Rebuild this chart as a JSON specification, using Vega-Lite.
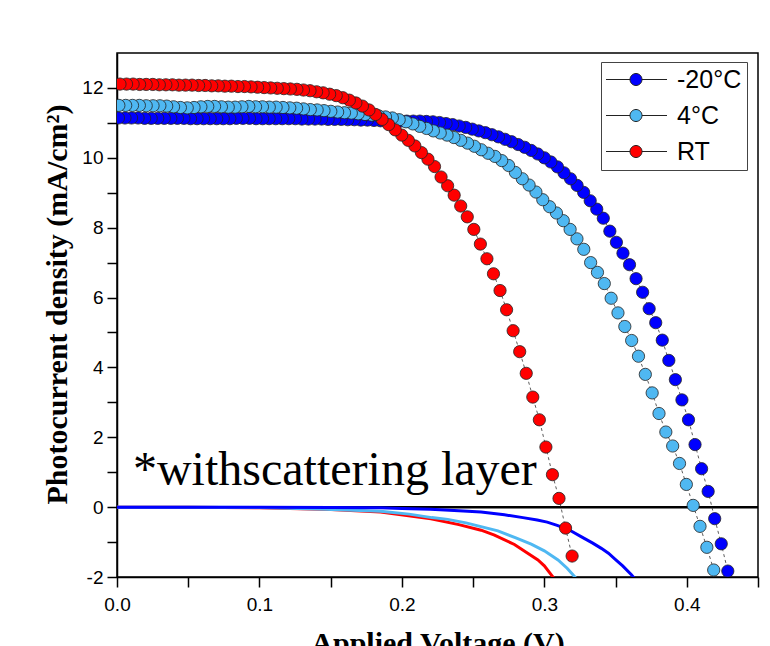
{
  "$schema": "https://vega.github.io/schema/vega-lite/v6.json",
  "width": 641,
  "height": 524,
  "autosize": {"type": "none"},
  "padding": {"left": 117, "top": 53, "right": 12, "bottom": 69},
  "background": "white",
  "config": {
    "view": {"stroke": "black", "strokeWidth": 1.5},
    "axis": {
      "grid": false,
      "domainColor": "black",
      "domainWidth": 1.5,
      "tickColor": "black",
      "tickWidth": 1.5,
      "tickSize": 10,
      "labelFont": "Liberation Sans",
      "labelFontSize": 19,
      "labelColor": "black",
      "labelFlush": false,
      "labelOverlap": false,
      "titleFont": "Liberation Serif",
      "titleFontWeight": "bold",
      "titleFontSize": 30,
      "titleColor": "black"
    }
  },
  "datasets": {
    "pts": [
      {"series": "-20°C", "V": 0.4288, "J": -1.83},
      {"series": "-20°C", "V": 0.4242, "J": -1.05},
      {"series": "-20°C", "V": 0.4196, "J": -0.33},
      {"series": "-20°C", "V": 0.4150, "J": 0.45},
      {"series": "-20°C", "V": 0.4104, "J": 1.10},
      {"series": "-20°C", "V": 0.4058, "J": 1.79},
      {"series": "-20°C", "V": 0.4012, "J": 2.50},
      {"series": "-20°C", "V": 0.3966, "J": 3.07},
      {"series": "-20°C", "V": 0.3920, "J": 3.65},
      {"series": "-20°C", "V": 0.3874, "J": 4.20},
      {"series": "-20°C", "V": 0.3828, "J": 4.78},
      {"series": "-20°C", "V": 0.3782, "J": 5.28},
      {"series": "-20°C", "V": 0.3736, "J": 5.68},
      {"series": "-20°C", "V": 0.3690, "J": 6.15},
      {"series": "-20°C", "V": 0.3644, "J": 6.54},
      {"series": "-20°C", "V": 0.3598, "J": 6.94},
      {"series": "-20°C", "V": 0.3552, "J": 7.27},
      {"series": "-20°C", "V": 0.3506, "J": 7.58},
      {"series": "-20°C", "V": 0.3460, "J": 7.90},
      {"series": "-20°C", "V": 0.3414, "J": 8.27},
      {"series": "-20°C", "V": 0.3368, "J": 8.53},
      {"series": "-20°C", "V": 0.3322, "J": 8.77},
      {"series": "-20°C", "V": 0.3276, "J": 9.01},
      {"series": "-20°C", "V": 0.3230, "J": 9.21},
      {"series": "-20°C", "V": 0.3184, "J": 9.40},
      {"series": "-20°C", "V": 0.3138, "J": 9.57},
      {"series": "-20°C", "V": 0.3092, "J": 9.74},
      {"series": "-20°C", "V": 0.3046, "J": 9.88},
      {"series": "-20°C", "V": 0.3000, "J": 10.00},
      {"series": "-20°C", "V": 0.2954, "J": 10.11},
      {"series": "-20°C", "V": 0.2908, "J": 10.21},
      {"series": "-20°C", "V": 0.2862, "J": 10.30},
      {"series": "-20°C", "V": 0.2816, "J": 10.38},
      {"series": "-20°C", "V": 0.2770, "J": 10.46},
      {"series": "-20°C", "V": 0.2724, "J": 10.53},
      {"series": "-20°C", "V": 0.2678, "J": 10.60},
      {"series": "-20°C", "V": 0.2632, "J": 10.66},
      {"series": "-20°C", "V": 0.2586, "J": 10.72},
      {"series": "-20°C", "V": 0.2540, "J": 10.77},
      {"series": "-20°C", "V": 0.2494, "J": 10.82},
      {"series": "-20°C", "V": 0.2448, "J": 10.87},
      {"series": "-20°C", "V": 0.2402, "J": 10.91},
      {"series": "-20°C", "V": 0.2356, "J": 10.95},
      {"series": "-20°C", "V": 0.2310, "J": 10.98},
      {"series": "-20°C", "V": 0.2264, "J": 11.01},
      {"series": "-20°C", "V": 0.2218, "J": 11.03},
      {"series": "-20°C", "V": 0.2172, "J": 11.04},
      {"series": "-20°C", "V": 0.2126, "J": 11.05},
      {"series": "-20°C", "V": 0.2080, "J": 11.05},
      {"series": "-20°C", "V": 0.2034, "J": 11.05},
      {"series": "-20°C", "V": 0.1988, "J": 11.05},
      {"series": "-20°C", "V": 0.1942, "J": 11.05},
      {"series": "-20°C", "V": 0.1896, "J": 11.06},
      {"series": "-20°C", "V": 0.1850, "J": 11.06},
      {"series": "-20°C", "V": 0.1804, "J": 11.07},
      {"series": "-20°C", "V": 0.1758, "J": 11.08},
      {"series": "-20°C", "V": 0.1712, "J": 11.08},
      {"series": "-20°C", "V": 0.1666, "J": 11.09},
      {"series": "-20°C", "V": 0.1620, "J": 11.09},
      {"series": "-20°C", "V": 0.1574, "J": 11.10},
      {"series": "-20°C", "V": 0.1528, "J": 11.10},
      {"series": "-20°C", "V": 0.1482, "J": 11.10},
      {"series": "-20°C", "V": 0.1436, "J": 11.11},
      {"series": "-20°C", "V": 0.1390, "J": 11.11},
      {"series": "-20°C", "V": 0.1344, "J": 11.11},
      {"series": "-20°C", "V": 0.1298, "J": 11.11},
      {"series": "-20°C", "V": 0.1252, "J": 11.12},
      {"series": "-20°C", "V": 0.1206, "J": 11.12},
      {"series": "-20°C", "V": 0.1160, "J": 11.12},
      {"series": "-20°C", "V": 0.1114, "J": 11.12},
      {"series": "-20°C", "V": 0.1068, "J": 11.12},
      {"series": "-20°C", "V": 0.1022, "J": 11.12},
      {"series": "-20°C", "V": 0.0976, "J": 11.12},
      {"series": "-20°C", "V": 0.0930, "J": 11.13},
      {"series": "-20°C", "V": 0.0884, "J": 11.13},
      {"series": "-20°C", "V": 0.0838, "J": 11.13},
      {"series": "-20°C", "V": 0.0792, "J": 11.12},
      {"series": "-20°C", "V": 0.0746, "J": 11.12},
      {"series": "-20°C", "V": 0.0700, "J": 11.12},
      {"series": "-20°C", "V": 0.0654, "J": 11.12},
      {"series": "-20°C", "V": 0.0608, "J": 11.12},
      {"series": "-20°C", "V": 0.0562, "J": 11.12},
      {"series": "-20°C", "V": 0.0516, "J": 11.12},
      {"series": "-20°C", "V": 0.0470, "J": 11.13},
      {"series": "-20°C", "V": 0.0424, "J": 11.13},
      {"series": "-20°C", "V": 0.0378, "J": 11.13},
      {"series": "-20°C", "V": 0.0332, "J": 11.13},
      {"series": "-20°C", "V": 0.0286, "J": 11.13},
      {"series": "-20°C", "V": 0.0240, "J": 11.13},
      {"series": "-20°C", "V": 0.0194, "J": 11.13},
      {"series": "-20°C", "V": 0.0148, "J": 11.14},
      {"series": "-20°C", "V": 0.0102, "J": 11.14},
      {"series": "-20°C", "V": 0.0056, "J": 11.14},
      {"series": "-20°C", "V": 0.0010, "J": 11.14},
      {"series": "4°C", "V": 0.4189, "J": -1.80},
      {"series": "4°C", "V": 0.4141, "J": -1.15},
      {"series": "4°C", "V": 0.4093, "J": -0.55},
      {"series": "4°C", "V": 0.4045, "J": 0.05},
      {"series": "4°C", "V": 0.3997, "J": 0.65},
      {"series": "4°C", "V": 0.3949, "J": 1.25},
      {"series": "4°C", "V": 0.3901, "J": 1.75},
      {"series": "4°C", "V": 0.3853, "J": 2.15},
      {"series": "4°C", "V": 0.3805, "J": 2.68},
      {"series": "4°C", "V": 0.3757, "J": 3.27},
      {"series": "4°C", "V": 0.3709, "J": 3.80},
      {"series": "4°C", "V": 0.3661, "J": 4.32},
      {"series": "4°C", "V": 0.3613, "J": 4.77},
      {"series": "4°C", "V": 0.3565, "J": 5.17},
      {"series": "4°C", "V": 0.3517, "J": 5.56},
      {"series": "4°C", "V": 0.3469, "J": 5.98},
      {"series": "4°C", "V": 0.3421, "J": 6.40},
      {"series": "4°C", "V": 0.3373, "J": 6.72},
      {"series": "4°C", "V": 0.3325, "J": 7.00},
      {"series": "4°C", "V": 0.3277, "J": 7.38},
      {"series": "4°C", "V": 0.3229, "J": 7.68},
      {"series": "4°C", "V": 0.3181, "J": 7.95},
      {"series": "4°C", "V": 0.3133, "J": 8.20},
      {"series": "4°C", "V": 0.3085, "J": 8.42},
      {"series": "4°C", "V": 0.3037, "J": 8.60},
      {"series": "4°C", "V": 0.2989, "J": 8.80},
      {"series": "4°C", "V": 0.2941, "J": 9.02},
      {"series": "4°C", "V": 0.2893, "J": 9.22},
      {"series": "4°C", "V": 0.2845, "J": 9.40},
      {"series": "4°C", "V": 0.2797, "J": 9.58},
      {"series": "4°C", "V": 0.2749, "J": 9.78},
      {"series": "4°C", "V": 0.2701, "J": 9.92},
      {"series": "4°C", "V": 0.2653, "J": 10.04},
      {"series": "4°C", "V": 0.2605, "J": 10.13},
      {"series": "4°C", "V": 0.2557, "J": 10.23},
      {"series": "4°C", "V": 0.2509, "J": 10.33},
      {"series": "4°C", "V": 0.2461, "J": 10.42},
      {"series": "4°C", "V": 0.2413, "J": 10.50},
      {"series": "4°C", "V": 0.2365, "J": 10.58},
      {"series": "4°C", "V": 0.2317, "J": 10.65},
      {"series": "4°C", "V": 0.2269, "J": 10.71},
      {"series": "4°C", "V": 0.2221, "J": 10.77},
      {"series": "4°C", "V": 0.2173, "J": 10.84},
      {"series": "4°C", "V": 0.2125, "J": 10.90},
      {"series": "4°C", "V": 0.2077, "J": 10.97},
      {"series": "4°C", "V": 0.2029, "J": 11.03},
      {"series": "4°C", "V": 0.1981, "J": 11.09},
      {"series": "4°C", "V": 0.1933, "J": 11.14},
      {"series": "4°C", "V": 0.1885, "J": 11.17},
      {"series": "4°C", "V": 0.1837, "J": 11.20},
      {"series": "4°C", "V": 0.1789, "J": 11.22},
      {"series": "4°C", "V": 0.1741, "J": 11.24},
      {"series": "4°C", "V": 0.1693, "J": 11.26},
      {"series": "4°C", "V": 0.1645, "J": 11.28},
      {"series": "4°C", "V": 0.1597, "J": 11.29},
      {"series": "4°C", "V": 0.1549, "J": 11.31},
      {"series": "4°C", "V": 0.1501, "J": 11.33},
      {"series": "4°C", "V": 0.1453, "J": 11.35},
      {"series": "4°C", "V": 0.1405, "J": 11.37},
      {"series": "4°C", "V": 0.1357, "J": 11.38},
      {"series": "4°C", "V": 0.1309, "J": 11.40},
      {"series": "4°C", "V": 0.1261, "J": 11.42},
      {"series": "4°C", "V": 0.1213, "J": 11.43},
      {"series": "4°C", "V": 0.1165, "J": 11.44},
      {"series": "4°C", "V": 0.1117, "J": 11.45},
      {"series": "4°C", "V": 0.1069, "J": 11.45},
      {"series": "4°C", "V": 0.1021, "J": 11.46},
      {"series": "4°C", "V": 0.0973, "J": 11.46},
      {"series": "4°C", "V": 0.0925, "J": 11.47},
      {"series": "4°C", "V": 0.0877, "J": 11.46},
      {"series": "4°C", "V": 0.0829, "J": 11.45},
      {"series": "4°C", "V": 0.0781, "J": 11.45},
      {"series": "4°C", "V": 0.0733, "J": 11.46},
      {"series": "4°C", "V": 0.0685, "J": 11.47},
      {"series": "4°C", "V": 0.0637, "J": 11.47},
      {"series": "4°C", "V": 0.0589, "J": 11.46},
      {"series": "4°C", "V": 0.0541, "J": 11.44},
      {"series": "4°C", "V": 0.0493, "J": 11.43},
      {"series": "4°C", "V": 0.0445, "J": 11.44},
      {"series": "4°C", "V": 0.0397, "J": 11.46},
      {"series": "4°C", "V": 0.0349, "J": 11.48},
      {"series": "4°C", "V": 0.0301, "J": 11.49},
      {"series": "4°C", "V": 0.0253, "J": 11.49},
      {"series": "4°C", "V": 0.0205, "J": 11.49},
      {"series": "4°C", "V": 0.0157, "J": 11.50},
      {"series": "4°C", "V": 0.0109, "J": 11.50},
      {"series": "4°C", "V": 0.0061, "J": 11.50},
      {"series": "4°C", "V": 0.0013, "J": 11.50},
      {"series": "RT", "V": 0.3195, "J": -1.40},
      {"series": "RT", "V": 0.3149, "J": -0.60},
      {"series": "RT", "V": 0.3103, "J": 0.25},
      {"series": "RT", "V": 0.3057, "J": 0.93},
      {"series": "RT", "V": 0.3011, "J": 1.72},
      {"series": "RT", "V": 0.2965, "J": 2.50},
      {"series": "RT", "V": 0.2919, "J": 3.15},
      {"series": "RT", "V": 0.2873, "J": 3.83},
      {"series": "RT", "V": 0.2827, "J": 4.45},
      {"series": "RT", "V": 0.2781, "J": 5.05},
      {"series": "RT", "V": 0.2735, "J": 5.65},
      {"series": "RT", "V": 0.2689, "J": 6.20},
      {"series": "RT", "V": 0.2643, "J": 6.68},
      {"series": "RT", "V": 0.2597, "J": 7.11},
      {"series": "RT", "V": 0.2551, "J": 7.53},
      {"series": "RT", "V": 0.2505, "J": 7.95},
      {"series": "RT", "V": 0.2459, "J": 8.31},
      {"series": "RT", "V": 0.2413, "J": 8.62},
      {"series": "RT", "V": 0.2367, "J": 8.93},
      {"series": "RT", "V": 0.2321, "J": 9.20},
      {"series": "RT", "V": 0.2275, "J": 9.45},
      {"series": "RT", "V": 0.2229, "J": 9.75},
      {"series": "RT", "V": 0.2183, "J": 9.96},
      {"series": "RT", "V": 0.2137, "J": 10.15},
      {"series": "RT", "V": 0.2091, "J": 10.34},
      {"series": "RT", "V": 0.2045, "J": 10.50},
      {"series": "RT", "V": 0.1999, "J": 10.65},
      {"series": "RT", "V": 0.1953, "J": 10.80},
      {"series": "RT", "V": 0.1907, "J": 10.95},
      {"series": "RT", "V": 0.1861, "J": 11.10},
      {"series": "RT", "V": 0.1815, "J": 11.24},
      {"series": "RT", "V": 0.1769, "J": 11.37},
      {"series": "RT", "V": 0.1723, "J": 11.48},
      {"series": "RT", "V": 0.1677, "J": 11.57},
      {"series": "RT", "V": 0.1631, "J": 11.65},
      {"series": "RT", "V": 0.1585, "J": 11.72},
      {"series": "RT", "V": 0.1539, "J": 11.78},
      {"series": "RT", "V": 0.1493, "J": 11.82},
      {"series": "RT", "V": 0.1447, "J": 11.86},
      {"series": "RT", "V": 0.1401, "J": 11.89},
      {"series": "RT", "V": 0.1355, "J": 11.92},
      {"series": "RT", "V": 0.1309, "J": 11.94},
      {"series": "RT", "V": 0.1263, "J": 11.96},
      {"series": "RT", "V": 0.1217, "J": 11.97},
      {"series": "RT", "V": 0.1171, "J": 11.98},
      {"series": "RT", "V": 0.1125, "J": 11.99},
      {"series": "RT", "V": 0.1079, "J": 12.00},
      {"series": "RT", "V": 0.1033, "J": 12.01},
      {"series": "RT", "V": 0.0987, "J": 12.02},
      {"series": "RT", "V": 0.0941, "J": 12.03},
      {"series": "RT", "V": 0.0895, "J": 12.04},
      {"series": "RT", "V": 0.0849, "J": 12.04},
      {"series": "RT", "V": 0.0803, "J": 12.05},
      {"series": "RT", "V": 0.0757, "J": 12.05},
      {"series": "RT", "V": 0.0711, "J": 12.06},
      {"series": "RT", "V": 0.0665, "J": 12.06},
      {"series": "RT", "V": 0.0619, "J": 12.07},
      {"series": "RT", "V": 0.0573, "J": 12.07},
      {"series": "RT", "V": 0.0527, "J": 12.08},
      {"series": "RT", "V": 0.0481, "J": 12.08},
      {"series": "RT", "V": 0.0435, "J": 12.08},
      {"series": "RT", "V": 0.0389, "J": 12.09},
      {"series": "RT", "V": 0.0343, "J": 12.09},
      {"series": "RT", "V": 0.0297, "J": 12.09},
      {"series": "RT", "V": 0.0251, "J": 12.10},
      {"series": "RT", "V": 0.0205, "J": 12.10},
      {"series": "RT", "V": 0.0159, "J": 12.10},
      {"series": "RT", "V": 0.0113, "J": 12.11},
      {"series": "RT", "V": 0.0067, "J": 12.11},
      {"series": "RT", "V": 0.0021, "J": 12.11}
    ],
    "dark": [
      {"curve": "RT dark", "V": 0.0, "J": 0.0},
      {"curve": "RT dark", "V": 0.05, "J": 0.0},
      {"curve": "RT dark", "V": 0.1, "J": -0.02},
      {"curve": "RT dark", "V": 0.15, "J": -0.07},
      {"curve": "RT dark", "V": 0.185, "J": -0.14},
      {"curve": "RT dark", "V": 0.2204, "J": -0.33},
      {"curve": "RT dark", "V": 0.24, "J": -0.5},
      {"curve": "RT dark", "V": 0.2556, "J": -0.66},
      {"curve": "RT dark", "V": 0.265, "J": -0.8},
      {"curve": "RT dark", "V": 0.279, "J": -1.07},
      {"curve": "RT dark", "V": 0.2955, "J": -1.51},
      {"curve": "RT dark", "V": 0.3, "J": -1.68},
      {"curve": "RT dark", "V": 0.3049, "J": -1.94},
      {"curve": "RT dark", "V": 0.307, "J": -2.05},
      {"curve": "4°C dark", "V": 0.0, "J": 0.0},
      {"curve": "4°C dark", "V": 0.05, "J": 0.0},
      {"curve": "4°C dark", "V": 0.1, "J": -0.01},
      {"curve": "4°C dark", "V": 0.146, "J": -0.06},
      {"curve": "4°C dark", "V": 0.185, "J": -0.12},
      {"curve": "4°C dark", "V": 0.205, "J": -0.2},
      {"curve": "4°C dark", "V": 0.221, "J": -0.3},
      {"curve": "4°C dark", "V": 0.2322, "J": -0.35},
      {"curve": "4°C dark", "V": 0.245, "J": -0.45},
      {"curve": "4°C dark", "V": 0.2674, "J": -0.68},
      {"curve": "4°C dark", "V": 0.28, "J": -0.88},
      {"curve": "4°C dark", "V": 0.2908, "J": -1.06},
      {"curve": "4°C dark", "V": 0.3, "J": -1.25},
      {"curve": "4°C dark", "V": 0.3096, "J": -1.51},
      {"curve": "4°C dark", "V": 0.316, "J": -1.75},
      {"curve": "4°C dark", "V": 0.3213, "J": -1.99},
      {"curve": "4°C dark", "V": 0.323, "J": -2.08},
      {"curve": "-20°C dark", "V": 0.0, "J": 0.0},
      {"curve": "-20°C dark", "V": 0.05, "J": 0.0},
      {"curve": "-20°C dark", "V": 0.1, "J": 0.0},
      {"curve": "-20°C dark", "V": 0.15, "J": -0.01},
      {"curve": "-20°C dark", "V": 0.185, "J": -0.02},
      {"curve": "-20°C dark", "V": 0.2, "J": -0.04},
      {"curve": "-20°C dark", "V": 0.22, "J": -0.06},
      {"curve": "-20°C dark", "V": 0.24, "J": -0.1},
      {"curve": "-20°C dark", "V": 0.2556, "J": -0.14},
      {"curve": "-20°C dark", "V": 0.272, "J": -0.22},
      {"curve": "-20°C dark", "V": 0.285, "J": -0.3},
      {"curve": "-20°C dark", "V": 0.295, "J": -0.37},
      {"curve": "-20°C dark", "V": 0.302, "J": -0.43},
      {"curve": "-20°C dark", "V": 0.309, "J": -0.52},
      {"curve": "-20°C dark", "V": 0.317, "J": -0.64},
      {"curve": "-20°C dark", "V": 0.3261, "J": -0.85},
      {"curve": "-20°C dark", "V": 0.334, "J": -1.03},
      {"curve": "-20°C dark", "V": 0.34, "J": -1.18},
      {"curve": "-20°C dark", "V": 0.345, "J": -1.32},
      {"curve": "-20°C dark", "V": 0.35, "J": -1.5},
      {"curve": "-20°C dark", "V": 0.355, "J": -1.68},
      {"curve": "-20°C dark", "V": 0.3613, "J": -1.94},
      {"curve": "-20°C dark", "V": 0.364, "J": -2.08}
    ],
    "baseline": [
      {"V": 0, "V2": 0.45, "J": 0}
    ],
    "note": [
      {"V": 0.0112, "J": 0.63, "text": "*withscattering layer"}
    ]
  },
  "encoding": {
    "x": {
      "field": "V", "type": "quantitative",
      "scale": {"domain": [0, 0.45], "nice": false, "zero": false},
      "axis": {
        "title": "Applied Voltage (V)",
        "values": [0, 0.05, 0.1, 0.15, 0.2, 0.25, 0.3, 0.35, 0.4, 0.45],
        "labelExpr": "round(datum.value * 20) % 2 === 0 ? format(datum.value, '.1f') : ''",
        "labelPadding": 8,
        "titleBaseline": "alphabetic",
        "titleY": 75,
        "encode": {"ticks": {"update": {"y2": {"signal": "round(datum.value * 20) % 2 === 0 ? 10 : 5"}}}}
      }
    },
    "y": {
      "field": "J", "type": "quantitative",
      "scale": {"domain": [-2, 13], "nice": false, "zero": false},
      "axis": {
        "title": "Photocurrent density (mA/cm²)",
        "values": [-2, -1, 0, 1, 2, 3, 4, 5, 6, 7, 8, 9, 10, 11, 12],
        "labelExpr": "datum.value % 2 === 0 ? '' + datum.value : ''",
        "labelPadding": 4,
        "titleAngle": 270,
        "titleBaseline": "alphabetic",
        "titleAlign": "center",
        "titleX": -51,
        "titleY": 251,
        "encode": {"ticks": {"update": {"x2": {"signal": "datum.value % 2 === 0 ? -10 : -5"}}}}
      }
    }
  },
  "layer": [
    {
      "data": {"name": "note"},
      "mark": {"type": "text", "align": "left", "baseline": "alphabetic", "font": "Liberation Serif", "fontSize": 48, "color": "black"},
      "encoding": {
        "text": {"field": "text"}
      }
    },
    {
      "data": {"name": "baseline"},
      "mark": {"type": "rule", "color": "black", "strokeWidth": 2.5},
      "encoding": {
        "x2": {"field": "V2"}
      }
    },
    {
      "data": {"name": "pts"},
      "mark": {"type": "line", "color": "#333333", "strokeWidth": 0.8, "strokeDash": [3, 3], "clip": true},
      "encoding": {
        "detail": {"field": "series"}
      }
    },
    {
      "data": {"name": "dark"},
      "mark": {"type": "line", "strokeWidth": 3, "clip": true},
      "encoding": {
        "stroke": {"field": "curve", "type": "nominal", "scale": {"domain": ["-20°C dark", "4°C dark", "RT dark"], "range": ["#0000FF", "#4FB8F2", "#FF0000"]}, "legend": null}
      }
    },
    {
      "data": {"name": "pts"},
      "mark": {"type": "point", "shape": "circle", "filled": true, "size": 150, "opacity": 1, "stroke": "#222222", "strokeWidth": 0.8, "clip": true},
      "encoding": {
        "color": {
          "field": "series", "type": "nominal",
          "scale": {"domain": ["-20°C", "4°C", "RT"], "range": ["#0000FF", "#4FB8F2", "#FF0000"]},
          "legend": {
            "title": null,
            "orient": "none",
            "legendX": 484,
            "legendY": 9,
            "symbolType": "M-1.25,0H1.15M2.35,0H4.85M1.15,0A0.6,0.6,0,1,1,2.35,0A0.6,0.6,0,1,1,1.15,0Z",
            "symbolSize": 400,
            "symbolStrokeColor": "#222222",
            "symbolStrokeWidth": 1,
            "labelFont": "Liberation Sans",
            "labelFontSize": 25,
            "labelColor": "black",
            "labelOffset": 46,
            "strokeColor": "#444444",
            "fillColor": "white",
            "padding": 5,
            "rowPadding": 10
          }
        }
      }
    }
  ]
}
